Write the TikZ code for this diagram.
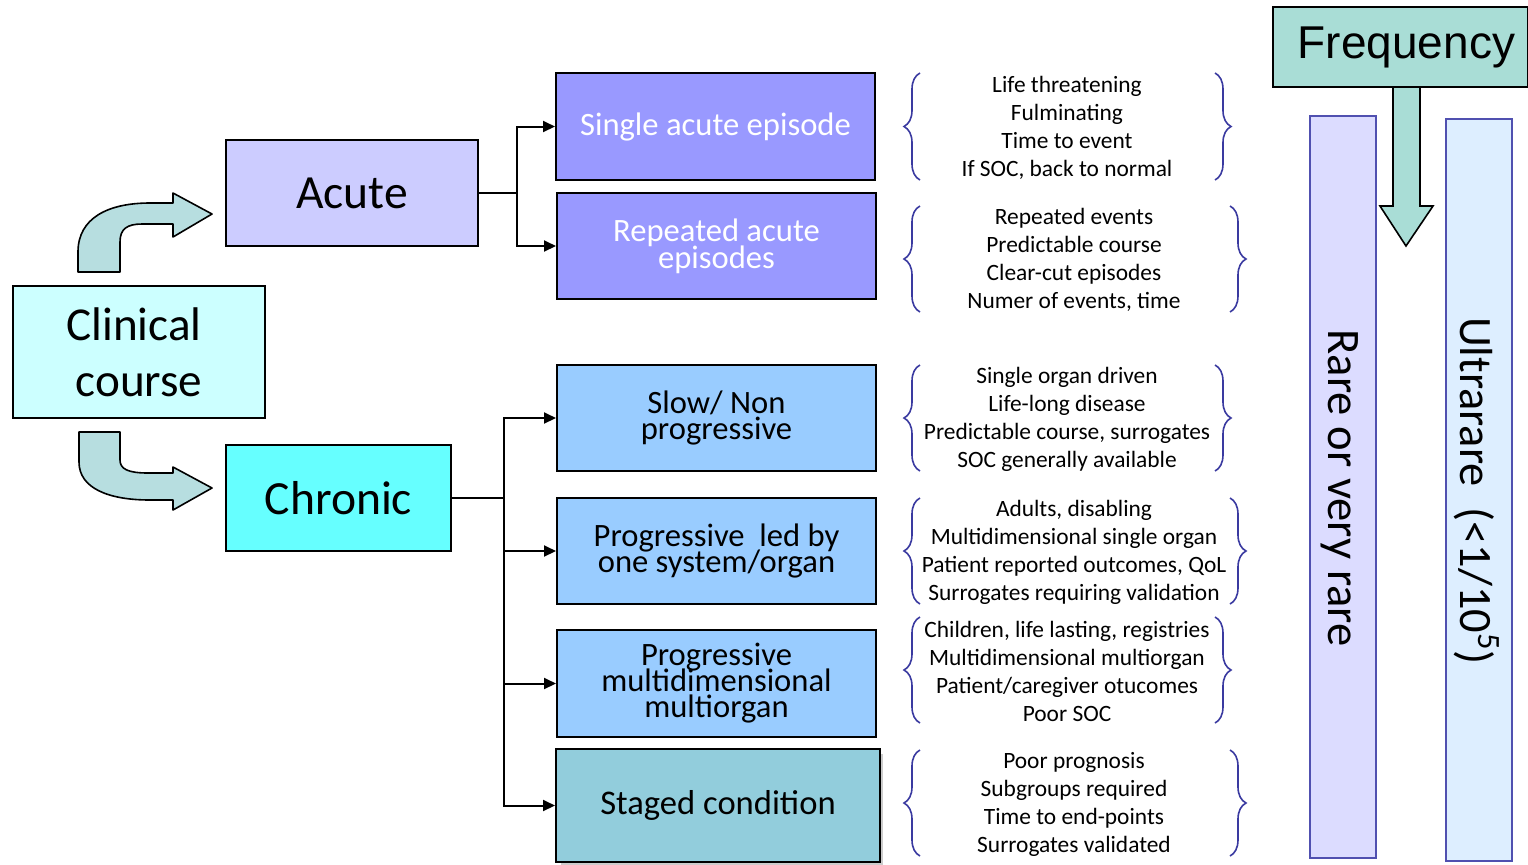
\documentclass[tikz,border=0pt]{standalone}
\usepackage{fontspec}
\setmainfont{Carlito}
\newfontfamily\arialf{Liberation Sans}
\usetikzlibrary{arrows.meta,decorations.pathreplacing}
\definecolor{clinfill}{HTML}{CCFFFF}
\definecolor{acutefill}{HTML}{CCCCFF}
\definecolor{chronfill}{HTML}{66FFFF}
\definecolor{violet}{HTML}{9999FF}
\definecolor{skyb}{HTML}{99CCFF}
\definecolor{stagedfill}{HTML}{92CDDC}
\definecolor{curvefill}{HTML}{B7DEE0}
\definecolor{bracecol}{HTML}{3A3AA0}
\definecolor{freqfill}{HTML}{A9DDD6}
\definecolor{rarefill}{HTML}{DCDCFF}
\definecolor{ultrafill}{HTML}{DDEEFF}
\definecolor{barline}{HTML}{5050B0}
\newcommand{\tightls}{\lineskiplimit=-100pt\relax}
\tikzset{
  boxn/.style={draw=black, line width=1pt, inner sep=0pt, align=center},
  conn/.style={draw=black, line width=1pt},
  arr/.style={conn, -{Triangle[length=6pt,width=5.5pt]}},
  bentarrow/.style={draw=black, line width=0.8pt, fill=curvefill, line join=round},
  lbrace/.style={draw=bracecol, line width=0.8pt, decorate, decoration={brace, amplitude=8pt}},
  bracetext/.style={align=center, font=\fontsize{11.7}{14}\selectfont, inner sep=0pt},
  bar/.style={draw=barline, line width=0.9pt, inner sep=0pt},
}
\begin{document}
\begin{tikzpicture}[x=0.5pt, y=-0.5pt]
\useasboundingbox (0,0) rectangle (1528,864);
% main nodes
\node[boxn, fill=clinfill, minimum width=126pt, minimum height=66pt, font=\fontsize{23.6}{28}\selectfont] (clin) at (139,352) {\hspace*{-5pt}Clinical\\course};
\node[boxn, fill=acutefill, minimum width=126pt, minimum height=53pt, font=\fontsize{23.8}{26}\selectfont] (acute) at (352,193) {Acute};
\node[boxn, fill=chronfill, minimum width=112.5pt, minimum height=53pt, font=\fontsize{23.8}{26}\selectfont] (chronic) at (338.5,498) {Chronic};
\node[boxn, fill=violet, text=white, minimum width=159.5pt, minimum height=53.5pt, font=\fontsize{16.3}{13.5}\selectfont\tightls] (sae) at (715.5,126.5) {Single acute episode};
\node[boxn, fill=violet, text=white, minimum width=159.5pt, minimum height=53pt, font=\fontsize{16.3}{13.5}\selectfont\tightls] (rae) at (716.5,246) {Repeated acute\\episodes};
\node[boxn, fill=skyb, minimum width=159.5pt, minimum height=53pt, font=\fontsize{16.3}{13}\selectfont\tightls] (slow) at (716.5,418) {Slow/ Non\\progressive};
\node[boxn, fill=skyb, minimum width=159.5pt, minimum height=53pt, font=\fontsize{16.3}{13}\selectfont\tightls] (plo) at (716.5,551) {Progressive\ \ led by\\one system/organ};
\node[boxn, fill=skyb, minimum width=159.5pt, minimum height=53.5pt, font=\fontsize{16.3}{13}\selectfont\tightls] (pmm) at (716.5,683.5) {Progressive\\multidimensional\\multiorgan};
\fill[gray!40] (561,754) rectangle (883,865);
\node[boxn, fill=stagedfill, minimum width=162pt, minimum height=56.5pt, font=\fontsize{17.3}{18}\selectfont] (staged) at (718,805.5) {Staged condition};
% connectors
\coordinate (aj) at (517,193);
\coordinate (cj) at (504,498);
\draw[conn] (acute.east) -- (aj);
\draw[arr] (aj) |- (sae.west);
\draw[arr] (aj) |- (rae.west);
\draw[conn] (chronic.east) -- (cj);
\draw[arr] (cj) |- (slow.west);
\draw[arr] (cj) |- (plo.west);
\draw[arr] (cj) |- (pmm.west);
\draw[arr] (cj) |- (staged.west);
% bent arrows
\draw[bentarrow] (78,272) -- (78,252) .. controls (78,218) and (108,203) .. (150,203) -- (173,203) -- (173,193) -- (212,214) -- (173,237) -- (173,224) -- (142,224) .. controls (127,224) and (120,229) .. (120,242) -- (120,272) -- cycle;
\draw[bentarrow] (79,432) -- (120,432) -- (120,460) .. controls (120,469) and (128,473) .. (148,473) -- (173,473) -- (173,467) -- (212,488) -- (173,510) -- (173,500) -- (150,500) .. controls (108,500) and (79,488) .. (79,462) -- cycle;
% braces and texts
\draw[lbrace] (920,180) -- (920,73);
\draw[lbrace] (1215,73) -- (1215,180);
\node[bracetext] (t1) at (1067,128) {Life threatening\\Fulminating\\Time to event\\If SOC, back to normal};
\draw[lbrace] (920,312) -- (920,206);
\draw[lbrace] (1230,206) -- (1230,312);
\node[bracetext] (t2) at (1074,260) {Repeated events\\Predictable course\\Clear-cut episodes\\Numer of events, time};
\draw[lbrace] (920,471) -- (920,365);
\draw[lbrace] (1215,365) -- (1215,471);
\node[bracetext] (t3) at (1067,419) {Single organ driven\\Life-long disease\\Predictable course, surrogates\\SOC generally available};
\draw[lbrace] (920,604) -- (920,498);
\draw[lbrace] (1230,498) -- (1230,604);
\node[bracetext] (t4) at (1074,552) {Adults, disabling\\Multidimensional single organ\\Patient reported outcomes, QoL\\Surrogates requiring validation};
\draw[lbrace] (920,723) -- (920,617);
\draw[lbrace] (1215,617) -- (1215,723);
\node[bracetext] (t5) at (1067,671) {Children, life lasting, registries\\Multidimensional multiorgan\\Patient/caregiver otucomes\\Poor SOC};
\draw[lbrace] (920,856) -- (920,750);
\draw[lbrace] (1230,750) -- (1230,856);
\node[bracetext] (t6) at (1074,804) {Poor prognosis\\Subgroups required\\Time to end-points\\Surrogates validated};
% frequency
\node[bar, fill=rarefill, minimum width=33pt, minimum height=371pt] (rare) at (1343,487) {};
\node[rotate=-90, font=\fontsize{23.3}{26}\selectfont, inner sep=0pt] (raret) at (1340,488) {Rare or very rare};
\node[bar, fill=ultrafill, minimum width=33pt, minimum height=371pt] (ultra) at (1479,490) {};
\node[rotate=-90, font=\fontsize{23.2}{26}\selectfont, inner sep=0pt] (ultrat) at (1477,491) {Ultrarare\ \ (<1/10\textsuperscript{5})};
\node[draw=black, line width=1pt, fill=freqfill, minimum width=127.5pt, minimum height=40pt, inner sep=0pt, font=\arialf\fontsize{23}{26}\selectfont] (freq) at (1400.5,47) {\hspace*{6pt}Frequency};
\draw[draw=black, line width=0.8pt, fill=freqfill, line join=miter] (1393,87) -- (1420,87) -- (1420,206) -- (1433,206) -- (1406,246) -- (1380,206) -- (1393,206) -- cycle;
\end{tikzpicture}
\end{document}
